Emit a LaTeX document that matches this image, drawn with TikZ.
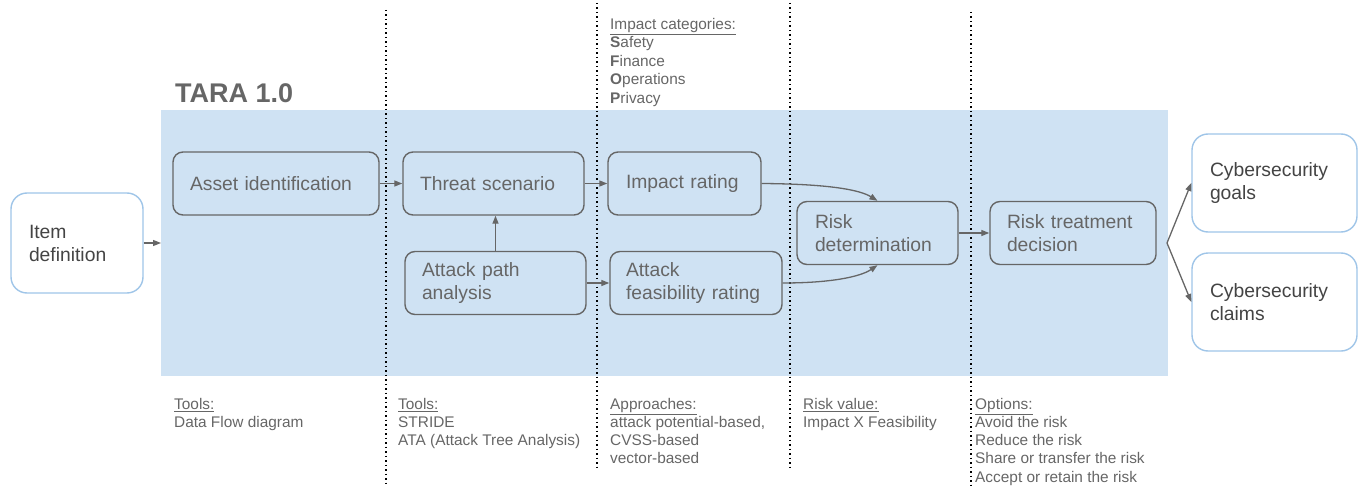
\documentclass[tikz,border=0pt]{standalone}
\usepackage{fontspec}
\setmainfont{Liberation Sans}
\usetikzlibrary{arrows.meta}
\definecolor{bluebg}{HTML}{CFE2F3}
\definecolor{blueline}{HTML}{9FC5E8}
\definecolor{gtext}{HTML}{666666}
\definecolor{dtext}{HTML}{444444}
\begin{document}
\begin{tikzpicture}[x=1pt,y=-1pt,
 procbox/.style={draw=gtext, line width=1.4pt, rounded corners=10pt, align=left, inner xsep=17pt, inner ysep=0pt, minimum height=63pt, text=gtext, font=\fontsize{19.3}{23}\selectfont},
 outbox/.style={draw=blueline, line width=1.4pt, fill=white, rounded corners=16pt, align=left, inner xsep=18pt, inner ysep=0pt, text=dtext, font=\fontsize{19.3}{23}\selectfont},
 arr/.style={draw=gtext, line width=1.3pt, -{Triangle[length=8pt,width=6pt]}},
 sepline/.style={draw=black, line width=1.5pt, dash pattern=on 1.5pt off 3pt},
 note/.style={anchor=north west, inner sep=0pt, align=left, text=gtext, font=\fontsize{15.4}{18.2}\selectfont},
]
\useasboundingbox (0,0) rectangle (1359,489);
\node[fill=bluebg, anchor=north west, inner sep=0pt, minimum width=1007pt, minimum height=266pt] (tara) at (161,110) {};

\draw[sepline] (386,10) -- (386,483);
\draw[sepline] (597,3) -- (597,470);
\draw[sepline] (790,3) -- (790,470);
\draw[sepline] (971,12) -- (971,489);

\node[anchor=west, inner sep=0pt, text=gtext, font=\fontsize{27}{32}\selectfont\bfseries] (title) at (175,93) {TARA 1.0};

\node[procbox, text width=172pt] (asset) at (276,183.5) {Asset identification};
\node[procbox, text width=147pt] (threat) at (493.5,183.5) {Threat scenario};
\node[procbox, text width=147pt] (apath) at (495.5,283) {Attack path\\analysis};
\node[procbox, text width=117pt, inner xsep=18pt] (impact) at (684.5,183.5) {Impact rating};
\node[procbox, text width=140pt, inner xsep=16pt] (feas) at (696,283) {Attack\\feasibility rating};
\node[procbox, text width=125pt, inner xsep=18pt] (riskdet) at (877.5,233) {Risk\\determination};
\node[procbox, text width=132pt] (treat) at (1073,233) {Risk treatment\\decision};
\node[outbox, text width=96pt, minimum height=100pt] (item) at (77,243) {Item\\definition};
\node[outbox, text width=129pt, minimum height=98pt] (goals) at (1274.5,183) {Cybersecurity\\goals};
\node[outbox, text width=129pt, minimum height=98pt] (claims) at (1274.5,302) {Cybersecurity\\claims};

\draw[arr] (item.east) -- (item.east -| tara.west);
\draw[arr] (asset) -- (threat);
\draw[arr] (threat) -- (impact);
\draw[arr] (apath) -- (feas);
\draw[arr] (apath.north) -- (apath.north |- threat.south);
\draw[arr] (impact.east) .. controls (830,184) and (860,190) .. (riskdet.north);
\draw[arr] (feas.east) .. controls (830,283) and (860,277) .. (riskdet.south);
\draw[arr] (riskdet) -- (treat);
\coordinate (fork) at (1167,243);
\draw[arr] (fork) -- (goals.west);
\draw[arr] (fork) -- (claims.west);

\node[note, font=\fontsize{15.4}{18.5}\selectfont] (cats) at (610,18) {\underline{Impact categories:}\\\textbf{S}afety\\\textbf{F}inance\\\textbf{O}perations\\\textbf{P}rivacy};

\node[note] (n1) at (174,398) {\underline{Tools:}\\Data Flow diagram};
\node[note] (n2) at (398,398) {\underline{Tools:}\\STRIDE\\ATA (Attack Tree Analysis)};
\node[note] (n3) at (610,398) {\underline{Approaches:}\\attack potential-based,\\CVSS-based\\vector-based};
\node[note] (n4) at (803,398) {\underline{Risk value:}\\Impact X Feasibility};
\node[note] (n5) at (975,398) {\underline{Options:}\\Avoid the risk\\Reduce the risk\\Share or transfer the risk\\Accept or retain the risk};
\end{tikzpicture}
\end{document}
